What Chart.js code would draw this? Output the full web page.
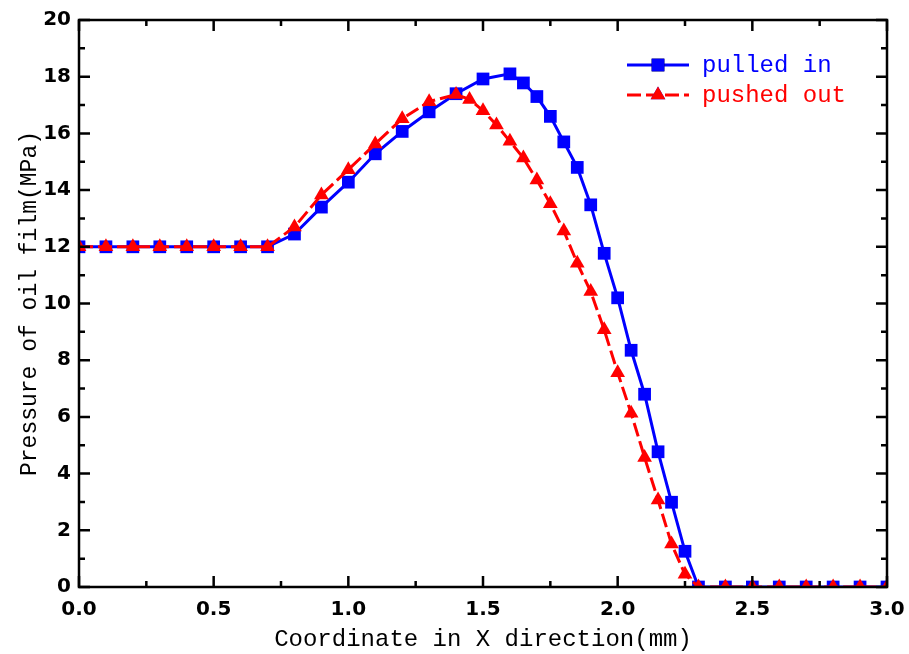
<!DOCTYPE html>
<html>
<head>
<meta charset="utf-8">
<script src="https://cdn.jsdelivr.net/npm/chart.js@4/dist/chart.umd.min.js"></script>
<style>
  html, body { margin: 0; padding: 0; background: #fff; }
  #c { display: block; }
</style>
</head>
<body>
<canvas id="c" width="909" height="654"></canvas>
<script>
// Oil film pressure along the X direction, two stroke directions
const pulledX = [0, 0.1, 0.2, 0.3, 0.4, 0.5, 0.6, 0.7, 0.8, 0.9, 1.0, 1.1, 1.2, 1.3, 1.4, 1.5, 1.6,
  1.65, 1.7, 1.75, 1.8, 1.85, 1.9, 1.95, 2.0, 2.05, 2.1, 2.15, 2.2, 2.25, 2.3,
  2.4, 2.5, 2.6, 2.7, 2.8, 2.9, 3.0];
const pulledY = [12, 12, 12, 12, 12, 12, 12, 12, 12.45, 13.4, 14.28, 15.28, 16.07, 16.76, 17.4, 17.92, 18.1,
  17.78, 17.3, 16.6, 15.7, 14.8, 13.48, 11.77, 10.2, 8.35, 6.8, 4.77, 2.99, 1.26, 0,
  0, 0, 0, 0, 0, 0, 0];

const pushedX = [0, 0.1, 0.2, 0.3, 0.4, 0.5, 0.6, 0.7, 0.8, 0.9, 1.0, 1.1, 1.2, 1.3, 1.4,
  1.45, 1.5, 1.55, 1.6, 1.65, 1.7, 1.75, 1.8, 1.85, 1.9, 1.95, 2.0, 2.05, 2.1, 2.15, 2.2, 2.25, 2.3,
  2.4, 2.5, 2.6, 2.7, 2.8, 2.9, 3.0];
const pushedY = [12, 12, 12, 12, 12, 12, 12, 12, 12.7, 13.83, 14.72, 15.63, 16.52, 17.12, 17.37,
  17.2, 16.8, 16.3, 15.72, 15.13, 14.36, 13.52, 12.56, 11.42, 10.42, 9.07, 7.56, 6.13, 4.57, 3.07, 1.52, 0.45, 0,
  0, 0, 0, 0, 0, 0, 0];

const seriesNames = ['pulled in', 'pushed out'];
const xTitle = 'Coordinate in X direction(mm)';
const yTitle = 'Pressure of oil film(MPa)';
const xMinorTicks = [0.25, 0.75, 1.25, 1.75, 2.25, 2.75];
const yMinorTicks = [1, 3, 5, 7, 9, 11, 13, 15, 17, 19];

const BLUE = '#0000ff';
const RED = '#ff0000';
const TITLE_FONT = "'Liberation Mono', 'DejaVu Sans Mono', monospace";
const TICK_FONT = "'DejaVu Sans', sans-serif";

const toPoints = (xs, ys) => xs.map((x, i) => ({ x: x, y: ys[i] }));

// Closed frame with inward major/minor ticks on all four sides
const framePlugin = {
  id: 'frame',
  afterDatasetsDraw(chart) {
    const { ctx, chartArea: a, scales } = chart;
    const xs = scales.x, ys = scales.y;
    ctx.save();
    ctx.strokeStyle = '#000';
    ctx.lineWidth = 2.5;
    ctx.lineCap = 'butt';
    const major = 11, minor = 6;
    ctx.beginPath();
    xs.ticks.forEach(t => {
      const px = xs.getPixelForValue(t.value);
      ctx.moveTo(px, a.bottom); ctx.lineTo(px, a.bottom - major);
      ctx.moveTo(px, a.top); ctx.lineTo(px, a.top + major);
    });
    xMinorTicks.forEach(v => {
      const px = xs.getPixelForValue(v);
      ctx.moveTo(px, a.bottom); ctx.lineTo(px, a.bottom - minor);
      ctx.moveTo(px, a.top); ctx.lineTo(px, a.top + minor);
    });
    ys.ticks.forEach(t => {
      const py = ys.getPixelForValue(t.value);
      ctx.moveTo(a.left, py); ctx.lineTo(a.left + major, py);
      ctx.moveTo(a.right, py); ctx.lineTo(a.right - major, py);
    });
    yMinorTicks.forEach(v => {
      const py = ys.getPixelForValue(v);
      ctx.moveTo(a.left, py); ctx.lineTo(a.left + minor, py);
      ctx.moveTo(a.right, py); ctx.lineTo(a.right - minor, py);
    });
    ctx.stroke();
    ctx.strokeRect(a.left, a.top, a.right - a.left, a.bottom - a.top);
    ctx.restore();
  }
};

// Legend inside the plot: line sample with marker, coloured label
const insideLegend = {
  id: 'insideLegend',
  afterDraw(chart) {
    const { ctx } = chart;
    const x0 = 627, x1 = 689, tx = 702;
    const rows = [65, 95];
    ctx.save();
    chart.data.datasets.forEach((ds, i) => {
      const y = rows[i];
      ctx.strokeStyle = ds.borderColor;
      ctx.lineWidth = ds.borderWidth;
      ctx.setLineDash(ds.borderDash || []);
      ctx.beginPath();
      ctx.moveTo(x0, y); ctx.lineTo(x1, y);
      ctx.stroke();
      ctx.setLineDash([]);
      Chart.helpers.drawPoint(ctx, {
        pointStyle: ds.pointStyle,
        radius: ds.pointRadius,
        borderWidth: 0
      }, (x0 + x1) / 2, y);
      ctx.fillStyle = ds.pointBackgroundColor;
      ctx.fill();
      ctx.fillStyle = ds.borderColor;
      ctx.font = '24px ' + TITLE_FONT;
      ctx.textBaseline = 'middle';
      ctx.textAlign = 'left';
      ctx.fillText(ds.label, tx, y + 1);
    });
    ctx.restore();
  }
};

new Chart(document.getElementById('c'), {
  type: 'line',
  data: {
    datasets: [
      {
        label: seriesNames[0],
        data: toPoints(pulledX, pulledY),
        borderColor: BLUE,
        backgroundColor: BLUE,
        pointBackgroundColor: BLUE,
        pointBorderColor: BLUE,
        borderWidth: 3,
        pointStyle: 'rect',
        pointRadius: 9,
        pointBorderWidth: 0,
        tension: 0,
        order: 2
      },
      {
        label: seriesNames[1],
        data: toPoints(pushedX, pushedY),
        borderColor: RED,
        backgroundColor: RED,
        pointBackgroundColor: RED,
        pointBorderColor: RED,
        borderWidth: 3,
        borderDash: [14, 5],
        pointStyle: 'triangle',
        pointRadius: 8.5,
        pointBorderWidth: 0,
        tension: 0,
        order: 1
      }
    ]
  },
  options: {
    responsive: false,
    devicePixelRatio: 1,
    animation: false,
    events: [],
    layout: { padding: { top: 20, right: 22, left: 0, bottom: 0 } },
    plugins: {
      legend: { display: false },
      tooltip: { enabled: false }
    },
    scales: {
      x: {
        type: 'linear',
        min: 0, max: 3,
        ticks: {
          stepSize: 0.5,
          color: '#000',
          padding: 11,
          maxRotation: 0,
          font: { family: TICK_FONT, size: 20, weight: 'bold' },
          callback: v => v.toFixed(1)
        },
        grid: { display: false, drawTicks: false },
        border: { display: false },
        title: {
          display: true,
          text: xTitle,
          color: '#000',
          font: { family: TITLE_FONT, size: 24 },
          padding: { top: 0, bottom: 0 }
        },
        afterFit(scale) {
          scale.height = 67;
          scale.paddingLeft = 0;
          scale.paddingRight = 0;
        }
      },
      y: {
        type: 'linear',
        min: 0, max: 20,
        ticks: {
          stepSize: 2,
          color: '#000',
          padding: 8,
          font: { family: TICK_FONT, size: 20, weight: 'bold' }
        },
        grid: { display: false, drawTicks: false },
        border: { display: false },
        title: {
          display: true,
          text: yTitle,
          color: '#000',
          font: { family: TITLE_FONT, size: 23 },
          padding: { top: 16, bottom: 0 }
        },
        afterFit(scale) {
          scale.width = 79;
          scale.paddingTop = 0;
          scale.paddingBottom = 0;
        }
      }
    }
  },
  plugins: [framePlugin, insideLegend]
});
</script>
</body>
</html>
